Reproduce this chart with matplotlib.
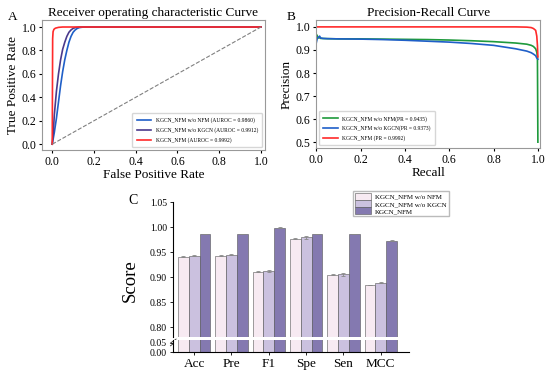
import numpy as np
import matplotlib
matplotlib.use("Agg")
import matplotlib.pyplot as plt
from matplotlib.ticker import MultipleLocator

plt.rcParams['font.family'] = ['Liberation Serif', 'DejaVu Serif']

# ROC data
roc_fpr_nfm = [0, 0.01, 0.02, 0.03, 0.04, 0.05, 0.06, 0.07, 0.08, 0.09, 0.10, 0.11, 0.12, 0.13, 0.15, 1.0]
roc_tpr_nfm = [0, 0.1, 0.22, 0.36, 0.5, 0.62, 0.72, 0.8, 0.87, 0.92, 0.955, 0.975, 0.988, 0.995, 1.0, 1.0]
roc_fpr_kgcn = [0, 0.005, 0.01, 0.02, 0.03, 0.04, 0.05, 0.06, 0.07, 0.08, 0.09, 0.10, 0.11, 0.13, 1.0]
roc_tpr_kgcn = [0, 0.1, 0.25, 0.45, 0.6, 0.72, 0.81, 0.87, 0.92, 0.955, 0.975, 0.988, 0.995, 1.0, 1.0]
roc_fpr_full = [0, 0.002, 0.004, 0.008, 0.015, 0.03, 0.05, 1.0]
roc_tpr_full = [0, 0.9, 0.96, 0.98, 0.99, 0.997, 1.0, 1.0]

# PR data
pr_rec_nfm = [0, 0.003, 0.006, 0.01, 0.02, 0.05, 0.1, 0.2, 0.3, 0.4, 0.5, 0.6, 0.7, 0.8, 0.9, 0.95, 0.97, 0.98, 0.99, 0.995, 0.998, 1.0]
pr_prec_nfm = [0.94, 0.965, 0.95, 0.955, 0.95, 0.949, 0.948, 0.948, 0.947, 0.946, 0.945, 0.943, 0.940, 0.936, 0.930, 0.925, 0.92, 0.915, 0.905, 0.89, 0.87, 0.5]
pr_rec_kgcn = [0, 0.004, 0.01, 0.015, 0.02, 0.03, 0.05, 0.1, 0.2, 0.3, 0.4, 0.5, 0.6, 0.7, 0.8, 0.9, 0.95, 0.97, 0.98, 0.99, 0.995, 1.0]
pr_prec_kgcn = [0.93, 0.95, 0.955, 0.96, 0.952, 0.95, 0.949, 0.948, 0.947, 0.945, 0.942, 0.938, 0.934, 0.928, 0.92, 0.905, 0.895, 0.888, 0.882, 0.875, 0.865, 0.86]
pr_rec_full = [0, 0.5, 0.9, 0.95, 0.97, 0.98, 0.99, 0.995, 0.998, 1.0]
pr_prec_full = [1.0, 1.0, 1.0, 0.999, 0.997, 0.993, 0.985, 0.96, 0.92, 0.87]

# bar data
metrics = ['Acc', 'Pre', 'F1', 'Spe', 'Sen', 'MCC']
score_nfm = [0.941, 0.943, 0.911, 0.977, 0.905, 0.884]
score_kgcn = [0.943, 0.945, 0.912, 0.980, 0.906, 0.889]
score_full = [0.986, 0.986, 0.999, 0.986, 0.986, 0.973]
err_nfm = [0.0005, 0.0005, 0.0005, 0.0005, 0.0005, 0.0005]
err_kgcn = [0.001, 0.001, 0.002, 0.003, 0.003, 0.001]
err_full = [0.0005, 0.0005, 0.0005, 0.0005, 0.0005, 0.0005]
bar_labels = ['KGCN_NFM w/o NFM', 'KGCN_NFM w/o KGCN', 'KGCN_NFM']

fig = plt.figure(figsize=(5.5, 3.77), dpi=100)

# ---- A: ROC ----
axA = fig.add_axes([0.076, 0.602, 0.406, 0.345])
axA.plot(roc_fpr_nfm, roc_tpr_nfm, color='#1f5fc8', lw=1.2,
         label='KGCN_NFM w/o NFM (AUROC = 0.9860)')
axA.plot(roc_fpr_kgcn, roc_tpr_kgcn, color='#4a3a8c', lw=1.2,
         label='KGCN_NFM w/o KGCN (AUROC = 0.9912)')
axA.plot(roc_fpr_full, roc_tpr_full, color='#ff2a2a', lw=1.2,
         label='KGCN_NFM (AUROC = 0.9992)')
axA.plot([0, 1], [0, 1], color='gray', ls='--', lw=0.8)
axA.set_xlim(-0.05, 1.02)
axA.set_ylim(-0.05, 1.06)
axA.set_title('Receiver operating characteristic Curve', fontsize=9.5, pad=3)
axA.set_xlabel('False Positive Rate', fontsize=9.5, labelpad=1)
axA.set_ylabel('True Positive Rate', fontsize=9.5, labelpad=2)
axA.legend(loc='lower right', fontsize=4, handlelength=2.6, frameon=True,
           borderpad=0.8, labelspacing=0.7)
fig.text(0.014, 0.948, 'A', fontsize=9.5)

# ---- B: PR ----
axB = fig.add_axes([0.575, 0.607, 0.407, 0.340])
axB.plot(pr_rec_nfm, pr_prec_nfm, color='#1e9a3c', lw=1.2,
         label='KGCN_NFM w/o NFM(PR = 0.9435)')
axB.plot(pr_rec_kgcn, pr_prec_kgcn, color='#1f5fc8', lw=1.2,
         label='KGCN_NFM w/o KGCN(PR = 0.9373)')
axB.plot(pr_rec_full, pr_prec_full, color='#ff2a2a', lw=1.2,
         label='KGCN_NFM (PR = 0.9992)')
axB.set_xlim(0, 1.01)
axB.set_ylim(0.474, 1.03)
axB.set_title('Precision-Recall Curve', fontsize=9.5, pad=3)
axB.set_xlabel('Recall', fontsize=9.5, labelpad=1)
axB.set_ylabel('Precision', fontsize=9.5, labelpad=2)
axB.yaxis.set_major_locator(MultipleLocator(0.1))
axB.legend(loc='lower left', fontsize=4, handlelength=2.6, frameon=True,
           borderpad=0.8, labelspacing=0.7)
fig.text(0.522, 0.948, 'B', fontsize=9.5)

for ax in (axA, axB):
    ax.xaxis.set_major_locator(MultipleLocator(0.2))
    ax.tick_params(labelsize=8.5, length=2, pad=2)
    for s in ax.spines.values():
        s.set_color('#999999')
axA.yaxis.set_major_locator(MultipleLocator(0.2))

# ---- C: bars with broken axis ----
axC = fig.add_axes([0.315, 0.106, 0.429, 0.358])
axD = fig.add_axes([0.315, 0.066, 0.429, 0.032])
x = np.arange(len(metrics))
w = 0.29
colors = ['#f7eaf2', '#cbc1df', '#8479b0']
series = [(score_nfm, err_nfm), (score_kgcn, err_kgcn), (score_full, err_full)]
for ax in (axC, axD):
    for i, (vals, errs) in enumerate(series):
        ax.bar(x + (i - 1) * w, vals, w, yerr=errs, color=colors[i],
               edgecolor='#555555', linewidth=0.4, ecolor='#888888',
               error_kw=dict(elinewidth=0.6, capsize=1.5, capthick=0.6),
               label=bar_labels[i])
    ax.set_xlim(-0.56, 5.76)
    ax.spines['top'].set_visible(False)
    ax.spines['right'].set_visible(False)
    ax.tick_params(direction='out', length=2.5, width=0.6, pad=2)

axC.set_ylim(0.78, 1.05)
axC.set_yticks([0.80, 0.85, 0.90, 0.95, 1.00, 1.05])
axC.set_yticklabels(['0.80', '0.85', '0.90', '0.95', '1.00', '1.05'], fontsize=7)
axC.spines['bottom'].set_visible(False)
axC.set_xticks([])
axC.set_ylabel('Score', fontsize=13.5)
axC.yaxis.set_label_coords(-0.145, 0.42)

axD.set_ylim(0, 0.065)
axD.set_yticks([0.0, 0.05])
axD.set_yticklabels(['0.00', '0.05'], fontsize=7)
axD.set_xticks(x)
axD.set_xticklabels(metrics, fontsize=9.5)
axD.tick_params(axis='y', pad=2)

# break marks
d = 0.012
axC.plot([-d, d], [-0.045, -0.015], transform=axC.transAxes, color='#333333',
         lw=0.6, clip_on=False)
axC.plot([-d, d], [-0.065, -0.035], transform=axC.transAxes, color='#333333',
         lw=0.6, clip_on=False)

handles, labels = axC.get_legend_handles_labels()
fig.legend(handles, labels, loc='upper left', bbox_to_anchor=(0.636, 0.503),
           fontsize=5.0, frameon=True, handlelength=2.3, handleheight=1.15,
           borderpad=0.3, labelspacing=0.05, handletextpad=0.5,
           fancybox=False, edgecolor='#aaaaaa')
fig.text(0.233, 0.46, 'C', fontsize=10)

fig.savefig('out.png', dpi=100)
